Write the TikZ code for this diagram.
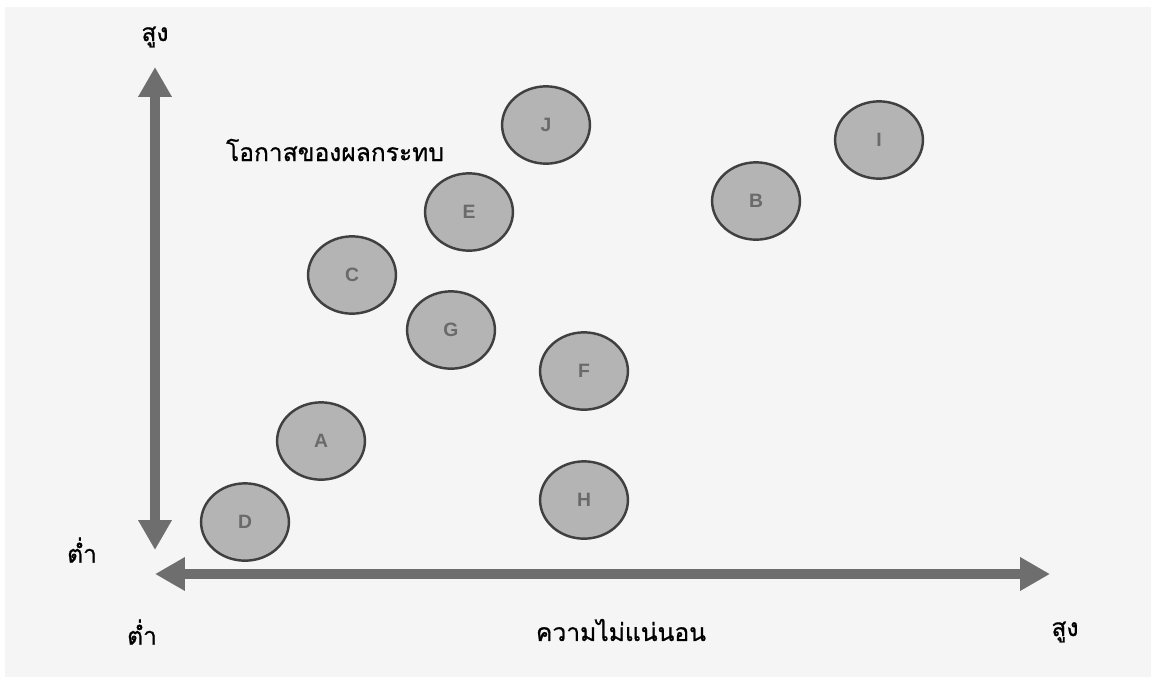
\documentclass[tikz,border=0pt]{standalone}
\usepackage{fontspec}
\newfontfamily\thaifont[Script=Thai,FakeBold=0.8]{Loma}
\setsansfont{Liberation Sans}
\usetikzlibrary{arrows.meta}
\usetikzlibrary{shapes.geometric}

\definecolor{bggray}{HTML}{F5F5F5}
\definecolor{axisgray}{HTML}{6E6E6E}
\definecolor{riskfill}{HTML}{B4B4B4}
\definecolor{riskline}{HTML}{404040}
\definecolor{riskletter}{HTML}{6A6A6A}

\begin{document}
\begin{tikzpicture}[x=0.02cm,y=-0.02cm,
    axis/.style={line width=5.7pt, axisgray, {Triangle[width=18pt,length=17pt]}-{Triangle[width=18pt,length=17pt]}},
    risk/.style={ellipse, draw=riskline, line width=1.4pt, fill=riskfill, minimum width=50pt, minimum height=44pt, inner sep=0pt, font=\sffamily\bfseries\fontsize{11}{12}\selectfont, text=riskletter},
    label/.style={font=\thaifont\fontsize{14}{16}\selectfont, text=black}]
    \useasboundingbox (0,0) rectangle (1151,680);
    \fill[bggray] (5,7) rectangle (1151,677);

    % axes
    \coordinate (ytop) at (155,67);
    \coordinate (ybot) at (155,550);
    \coordinate (xleft) at (155,574);
    \coordinate (xright) at (1050,574);
    \draw[axis] (ybot)--(ytop);
    \draw[axis] (xleft)--(xright);

    % axis labels
    \node[label] (yhigh) at (155,37) {สูง};
    \node[label] (ytitle) at (335,150) {โอกาสของผลกระทบ};
    \node[label] (ylow) at (82,550) {ต่ำ};
    \node[label] (xlow) at (142,632) {ต่ำ};
    \node[label] (xtitle) at (621,630) {ความไม่แน่นอน};
    \node[label] (xhigh) at (1065,632) {สูง};

    % risks
    \node[risk] (D) at (245,522) {D};
    \node[risk] (A) at (321,441) {A};
    \node[risk] (C) at (352,275) {C};
    \node[risk] (G) at (451,330) {G};
    \node[risk] (E) at (469,212) {E};
    \node[risk] (J) at (546,125) {J};
    \node[risk] (F) at (584,371) {F};
    \node[risk] (H) at (584,500) {H};
    \node[risk] (B) at (756,201) {B};
    \node[risk] (I) at (879,140) {I};
\end{tikzpicture}
\end{document}
